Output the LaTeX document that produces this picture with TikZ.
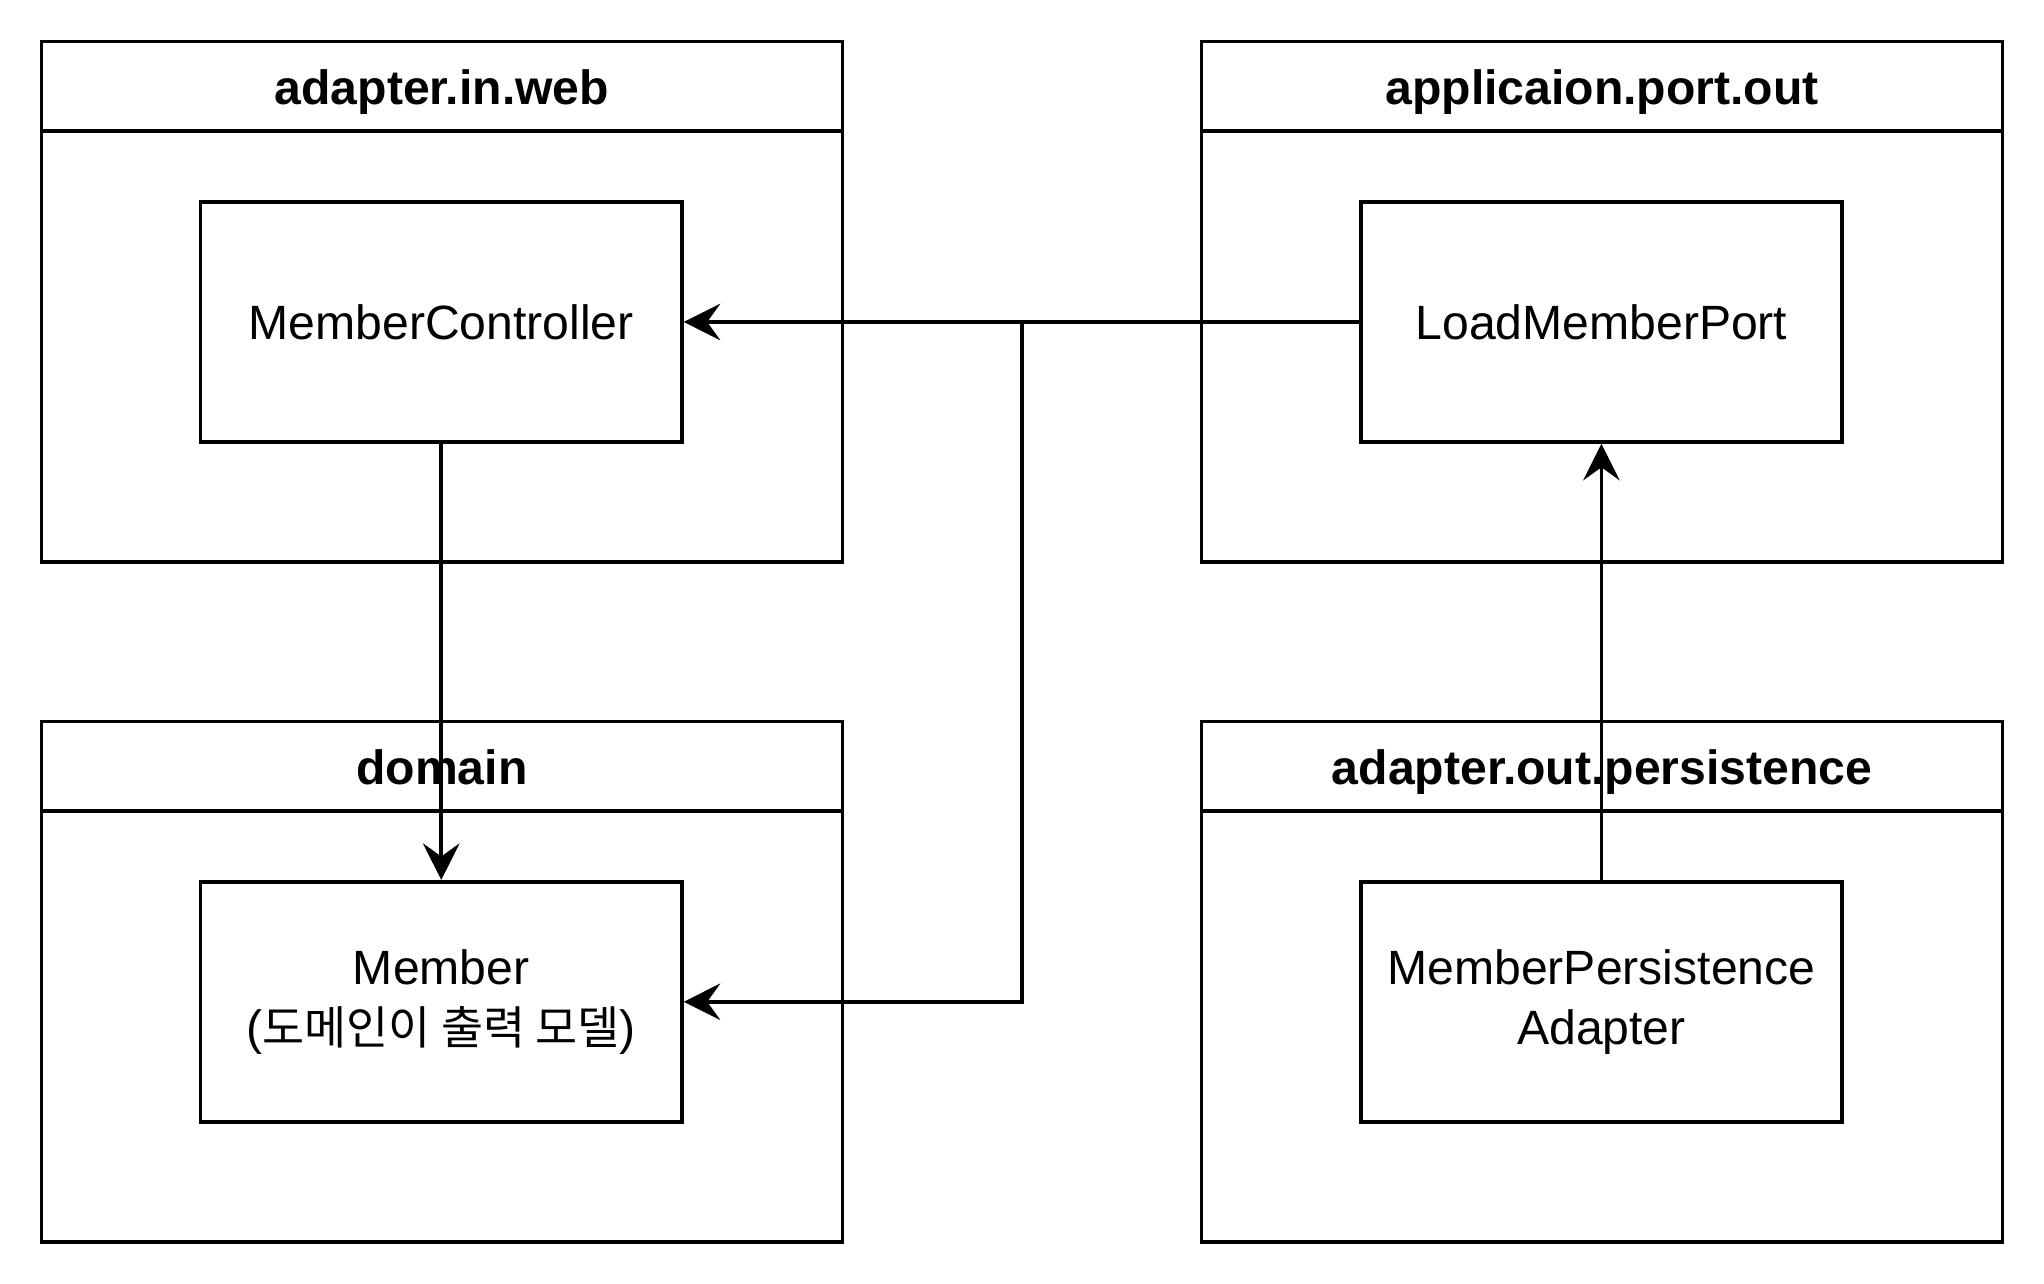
\documentclass[tikz,border=0pt]{standalone}
\usepackage{fontspec}
\setmainfont{Liberation Sans}
\newfontfamily\kr{Noto Sans CJK KR}[Scale=0.95]
\usetikzlibrary{arrows.meta}

\begin{document}
\begin{tikzpicture}[x=0.01cm,y=-0.01cm,line width=0.8pt,
    font=\fontsize{10.5}{13.1}\selectfont,
    pkg/.style={draw,minimum width=6.14cm,minimum height=3.99cm,inner sep=0pt},
    cls/.style={draw,minimum width=3.69cm,minimum height=1.84cm,inner sep=0pt,align=center},
    hdr/.style={font=\fontsize{10.5}{13.1}\selectfont\bfseries,text height=0.72em,text depth=0.21em},
    arr/.style={-{Stealth[length=2.8mm,width=2.8mm,inset=1mm]}}]
    \useasboundingbox (0,0) rectangle (1568,985);
    % packages
    \node[pkg] (web) at (339,231.5) {};
    \node[pkg] (portout) at (1229,231.5) {};
    \node[pkg] (domain) at (339,753) {};
    \node[pkg] (persist) at (1229,753) {};
    \foreach \p/\t in {web/adapter.in.web,portout/applicaion.port.out,domain/domain,persist/adapter.out.persistence}{
        \draw ([yshift=-0.7cm]\p.north west) -- ([yshift=-0.7cm]\p.north east);
        \node[hdr] (\p-title) at ([yshift=-0.405cm]\p.north) {\t};
    }
    % classes
    \node[cls] (ctrl) at (338.5,247) {MemberController};
    \node[cls] (loadport) at (1228.5,247) {LoadMemberPort};
    \node[cls] (member) at (338.5,768.5) {Member\\({\kr 도메인이 출력 모델})};
    \node[cls] (adapter) at (1228.5,768.5) {MemberPersistence\\Adapter};
    \coordinate (bend) at (784,247);
    \draw[arr] (loadport.west) -- (ctrl.east);
    \draw[arr] (loadport.west) -- (bend) |- (member.east);
    \draw[arr] (ctrl.south) -- (member.north);
    \draw[arr] (adapter.north) -- (loadport.south);
\end{tikzpicture}
\end{document}
